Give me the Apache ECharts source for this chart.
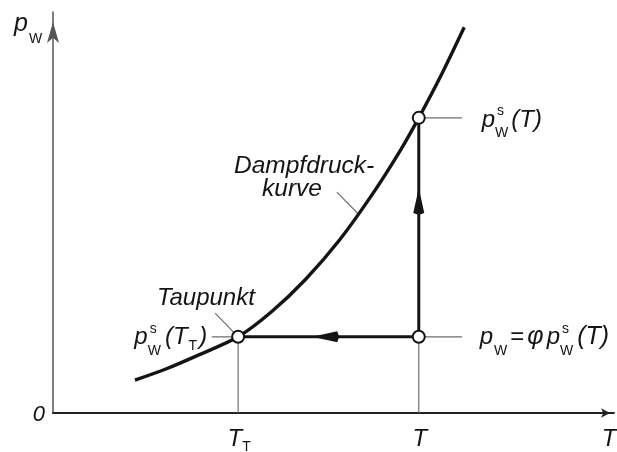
<!DOCTYPE html>
<html>
<head>
<meta charset="utf-8">
<script src="https://cdn.jsdelivr.net/npm/echarts@6/dist/echarts.min.js"></script>
<style>
  html, body { margin: 0; padding: 0; background: #fff; }
  #c { width: 617px; height: 452px; }
</style>
</head>
<body>
<div id="c"></div>
<script>
// Saturation vapour pressure curve p_W^s(T), schematic units
const curveT = [1.46, 2.00, 2.60, 3.30, 3.90, 4.50, 5.10, 5.70, 6.20, 6.52, 6.90, 7.33];
const curveP = [0.82, 1.09, 1.45, 1.90, 2.53, 3.33, 4.30, 5.47, 6.57, 7.36, 8.37, 9.62];

// Air state and dew point
const T_dew = 3.30;      // T_T
const T_air = 6.52;      // T
const p_w = 1.90;        // p_W = φ p_W^s(T)
const p_sat = 7.36;      // p_W^s(T)

// Axis ranges
const xMax = 10;
const yMax = 10;

// Leader lines for the annotations [x0, y0, x1, y1]
const leaders = [
  [T_air, p_sat, 7.29, p_sat],
  [T_air, p_w, 7.29, p_w],
  [2.83, p_w, T_dew, p_w],
  [2.89, 2.49, T_dew, p_w],
  [5.06, 5.51, 5.45, 4.95]
];

// Process path (cooling at constant p_W, humidification) with arrow tip fractions
const pathPts = [[T_dew, p_w], [T_air, p_w], [T_air, p_sat]];
const arrowHeads = [
  [T_air, p_w, T_dew, p_w, 0.59],
  [T_air, p_w, T_air, p_sat, 0.68]
];

const INK = '#141414';
const GREY = '#6e6e6e';
const FONT = '"Liberation Sans", Arial, sans-serif';

const chart = echarts.init(document.getElementById('c'), null, { renderer: 'canvas' });

function seg(pts, color, width, z) {
  return {
    type: 'line', data: pts, symbol: 'none', showSymbol: false, silent: true,
    lineStyle: { color: color, width: width, cap: 'butt' }, z: z, animation: false
  };
}

const series = [];
series.push({
  type: 'line',
  data: curveT.map((t, i) => [t, curveP[i]]),
  smooth: 0.3, symbol: 'none', showSymbol: false, silent: true,
  lineStyle: { color: INK, width: 3.4 }, z: 4, animation: false
});
series.push(seg([[T_dew, 0], [T_dew, p_w]], GREY, 1.2, 2));
series.push(seg([[T_air, 0], [T_air, p_w]], GREY, 1.2, 2));
leaders.forEach(l => series.push(seg([[l[0], l[1]], [l[2], l[3]]], GREY, 1.2, 2)));
series.push(seg(pathPts, INK, 3, 5));
series.push({
  type: 'custom', silent: true, z: 6, animation: false,
  encode: { x: [0, 2], y: [1, 3] },
  data: arrowHeads,
  renderItem: function (params, api) {
    const a = api.coord([api.value(0), api.value(1)]);
    const b = api.coord([api.value(2), api.value(3)]);
    const f = api.value(4);
    const dx = b[0] - a[0], dy = b[1] - a[1];
    const len = Math.sqrt(dx * dx + dy * dy);
    const ux = dx / len, uy = dy / len;
    const tip = [a[0] + dx * f, a[1] + dy * f];
    const L = 25, W = 11;
    const base = [tip[0] - ux * L, tip[1] - uy * L];
    const nx = -uy, ny = ux;
    return {
      type: 'polygon',
      shape: { points: [tip, [base[0] + nx * W / 2, base[1] + ny * W / 2], [base[0] - ux * 2, base[1] - uy * 2], [base[0] - nx * W / 2, base[1] - ny * W / 2]] },
      style: { fill: INK }
    };
  }
});
series.push({
  type: 'scatter', silent: true, z: 10, animation: false,
  data: [[T_dew, p_w], [T_air, p_w], [T_air, p_sat]],
  symbol: 'circle', symbolSize: 12,
  itemStyle: { color: '#ffffff', opacity: 1, borderColor: INK, borderWidth: 2 }
});

chart.setOption({
  animation: false,
  backgroundColor: '#fff',
  grid: { left: 53, right: 3, top: 12, bottom: 39 },
  xAxis: {
    type: 'value', min: 0, max: xMax,
    axisLine: { show: true, onZero: false, symbol: ['none', 'arrow'], symbolSize: [7, 9], symbolOffset: [0, -4],
      lineStyle: { color: '#222', width: 2 } },
    axisTick: { show: false }, axisLabel: { show: false }, splitLine: { show: false }
  },
  yAxis: {
    type: 'value', min: 0, max: yMax,
    axisLine: { show: true, onZero: false, symbol: ['none', 'arrow'], symbolSize: [9, 21], symbolOffset: [0, -10],
      lineStyle: { color: '#555', width: 1.5 } },
    axisTick: { show: false }, axisLabel: { show: false }, splitLine: { show: false }
  },
  series: series
});

// ---- text labels with sub/superscripts ----
const mctx = document.createElement('canvas').getContext('2d');
function fontStr(size, italic) { return (italic ? 'italic ' : '') + size + 'px ' + FONT; }
function measure(t, size, italic) { mctx.font = fontStr(size, italic); return mctx.measureText(t).width; }

// run: {t, size, it, dy} or {stack: [run, run]}; dy is baseline shift in px
function flow(runs, x0, baseline, align) {
  const widths = runs.map(r => r.stack ? Math.max.apply(null, r.stack.map(s => measure(s.t, s.size, s.it))) + (r.gap || 0)
                                        : measure(r.t, r.size, r.it) + (r.gap || 0));
  const total = widths.reduce((s, w) => s + w, 0);
  let x = align === 'right' ? x0 - total : align === 'center' ? x0 - total / 2 : x0;
  const els = [];
  runs.forEach((r, i) => {
    const parts = r.stack ? r.stack : [r];
    parts.forEach(p => {
      els.push({
        type: 'text', x: x + (p.dx || 0), y: baseline + (p.dy || 0), silent: true, z: 20,
        style: { text: p.t, font: fontStr(p.size, p.it), fill: INK, align: 'left', verticalAlign: 'bottom' }
      });
    });
    x += widths[i];
  });
  return els;
}
// shift from glyph baseline to the bottom of the text box
function bl(size) { return Math.round(size * 0.21); }

const B = 24, S = 14;
function pw(after) {
  return [
    { t: 'p', size: B, it: true, dy: bl(B), gap: 1 },
    { stack: [{ t: 's', size: S, it: false, dy: -12 + bl(S), dx: 1 }, { t: 'W', size: S, it: false, dy: 10 + bl(S), dx: -1 }], gap: after }
  ];
}

const px = (x, y) => chart.convertToPixel({ gridIndex: 0 }, [x, y]);
const pSatPx = px(T_air, p_sat);
const pwPx = px(T_air, p_w);
const dewPx = px(T_dew, p_w);
const origin = px(0, 0);

let g = [];
// axis titles
g = g.concat(flow([{ t: 'p', size: 25, it: true, dy: bl(25), gap: 1 }, { t: 'W', size: 14, it: false, dy: 11 + bl(14) }], 14, 32));
g = g.concat(flow([{ t: '0', size: 22, it: true, dy: bl(22) }], origin[0] - 8, origin[1] + 8, 'right'));
const yT = origin[1] + 33;
g = g.concat(flow([{ t: 'T', size: B, it: true, dy: bl(B) }, { t: 'T', size: S, it: false, dy: 5 + bl(S) }], px(T_dew, 0)[0] + 1, yT, 'center'));
g = g.concat(flow([{ t: 'T', size: B, it: true, dy: bl(B) }], px(T_air, 0)[0] + 1, yT, 'center'));
g = g.concat(flow([{ t: 'T', size: B, it: true, dy: bl(B) }], px(xMax, 0)[0] - 5, yT, 'center'));

// p_W^s(T)
g = g.concat(flow(pw(2).concat([{ t: '(T)', size: B, it: true, dy: bl(B) }]), pSatPx[0] + 63, pSatPx[1] + 9));
// p_W = φ p_W^s(T)
g = g.concat(flow([
  { t: 'p', size: B, it: true, dy: bl(B), gap: 1 },
  { t: 'W', size: S, it: false, dy: 10 + bl(S), gap: 3 },
  { t: '=', size: B, it: false, dy: bl(B), gap: 3 },
  { t: 'φ', size: B + 1, it: true, dy: bl(B), gap: 3 }
].concat(pw(3)).concat([{ t: '(T)', size: B + 1, it: true, dy: bl(B) }]), pwPx[0] + 61, pwPx[1] + 8));
// p_W^s(T_T)
g = g.concat(flow(pw(3).concat([
  { t: '(T', size: B, it: true, dy: bl(B), gap: 1 },
  { t: 'T', size: S, it: false, dy: 5 + bl(S), gap: 2 },
  { t: ')', size: B, it: true, dy: bl(B) }
]), dewPx[0] - 31, dewPx[1] + 8, 'right'));

// curve and dew point captions
g = g.concat(flow([{ t: 'Taupunkt', size: 24, it: true, dy: bl(24) }], 157, 305));
g = g.concat(flow([{ t: 'Dampfdruck-', size: 24.5, it: true, dy: bl(24.5) }], 234, 174));
g = g.concat(flow([{ t: 'kurve', size: 24.5, it: true, dy: bl(24.5) }], 262, 197));

chart.setOption({ graphic: { elements: g } });
</script>
</body>
</html>
